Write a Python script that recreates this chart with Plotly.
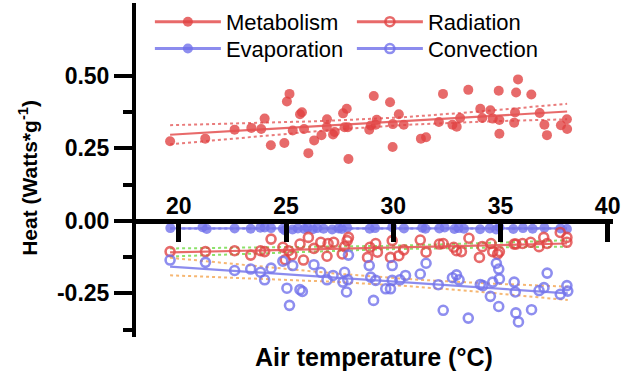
import numpy as np
import plotly.graph_objects as go

# ---------------- data ----------------
T_met = [19.59, 21.23, 22.60, 23.38, 23.84, 24.00, 24.29, 24.92, 25.04, 25.16,
         25.31, 25.65, 25.74, 25.84, 26.04, 26.31, 26.65, 26.90, 26.91, 27.19,
         27.27, 27.66, 27.73, 27.83, 27.88, 27.91, 28.88, 28.95, 29.09, 29.18,
         29.23, 29.85, 29.97, 29.98, 30.26, 30.49, 31.29, 31.53, 32.13, 32.32,
         32.76, 32.96, 33.12, 33.50, 34.06, 34.15, 34.53, 34.64, 34.92, 34.95,
         34.95, 35.64, 35.68, 35.73, 35.82, 36.44, 36.83, 37.05, 37.17, 37.82,
         38.10, 38.11]
V_met = [0.274, 0.283, 0.314, 0.320, 0.316, 0.352, 0.260, 0.268, 0.411, 0.437,
         0.311, 0.367, 0.374, 0.316, 0.233, 0.277, 0.295, 0.323, 0.350, 0.297,
         0.306, 0.370, 0.322, 0.386, 0.322, 0.213, 0.314, 0.328, 0.430, 0.331,
         0.348, 0.408, 0.254, 0.333, 0.367, 0.331, 0.283, 0.288, 0.340, 0.437,
         0.331, 0.324, 0.354, 0.451, 0.386, 0.354, 0.381, 0.352, 0.448, 0.347,
         0.300, 0.338, 0.373, 0.442, 0.487, 0.435, 0.371, 0.331, 0.295, 0.329,
         0.350, 0.316]

T_evap = [19.6, 21.1, 21.3, 22.6, 23.35, 23.8, 24.0, 24.3, 24.85, 24.95,
          25.3, 25.55, 25.85, 26.0, 26.25, 26.45, 26.75, 27.15, 27.45, 27.6,
          27.85, 28.9, 29.15, 29.95, 30.5, 31.35, 31.5, 32.15, 32.4, 32.85,
          33.05, 33.3, 34.05, 34.5, 34.8, 34.95, 35.6, 36.05, 36.5, 37.05,
          37.8, 38.1]
V_evap = [-0.025, -0.022, -0.028, -0.026, -0.027, -0.024, -0.023, -0.025, -0.027, -0.033,
          -0.030, -0.026, -0.028, -0.024, -0.029, -0.025, -0.027, -0.030, -0.026, -0.028,
          -0.024, -0.027, -0.025, -0.022, -0.026, -0.024, -0.027, -0.026, -0.023, -0.028,
          -0.025, -0.027, -0.029, -0.026, -0.030, -0.022, -0.028, -0.025, -0.027, -0.024,
          -0.026, -0.028]

T_rad = [19.59, 21.24, 22.60, 23.35, 23.81, 24.00, 24.30, 24.85, 24.96, 25.12,
         25.27, 25.65, 25.81, 26.04, 26.30, 26.62, 26.91, 26.96, 27.22, 27.62,
         27.73, 27.85, 27.91, 28.80, 28.91, 29.18, 29.26, 29.87, 29.95, 30.26,
         30.49, 31.26, 31.53, 32.15, 32.33, 32.82, 32.95, 33.18, 33.53, 34.02,
         34.15, 34.56, 34.64, 34.87, 34.95, 35.64, 35.72, 36.03, 36.41, 36.80,
         37.02, 37.18, 37.79, 38.10, 38.10]
V_rad = [-0.106, -0.106, -0.103, -0.118, -0.103, -0.106, -0.063, -0.091, -0.134, -0.103,
         -0.118, -0.080, -0.135, -0.057, -0.095, -0.074, -0.122, -0.078, -0.074, -0.114,
         -0.089, -0.068, -0.057, -0.126, -0.091, -0.078, -0.108, -0.126, -0.068, -0.120,
         -0.100, -0.066, -0.108, -0.080, -0.078, -0.091, -0.103, -0.106, -0.060, -0.126,
         -0.089, -0.078, -0.106, -0.114, -0.106, -0.080, -0.080, -0.078, -0.074, -0.089,
         -0.057, -0.078, -0.040, -0.057, -0.074]

T_conv = [19.59, 21.24, 22.60, 23.35, 23.81, 24.00, 24.30, 24.85, 25.04, 25.16,
          25.31, 25.65, 25.76, 26.30, 26.62, 26.91, 27.19, 27.65, 27.73, 27.82,
          27.88, 27.91, 28.88, 28.95, 29.08, 29.18, 29.65, 29.87, 29.95, 29.95,
          30.31, 30.57, 31.26, 31.53, 32.10, 32.33, 32.76, 32.95, 33.07, 33.50,
          34.06, 34.18, 34.53, 34.64, 34.81, 34.92, 34.92, 34.95, 35.64, 35.69,
          35.72, 35.84, 36.45, 36.80, 37.03, 37.18, 37.79, 38.10, 38.14]
V_conv = [-0.135, -0.143, -0.171, -0.166, -0.177, -0.203, -0.163, -0.139, -0.232, -0.291,
          -0.154, -0.237, -0.243, -0.151, -0.177, -0.203, -0.188, -0.211, -0.177, -0.245,
          -0.203, -0.118, -0.154, -0.194, -0.274, -0.205, -0.234, -0.234, -0.154, -0.205,
          -0.203, -0.188, -0.183, -0.146, -0.220, -0.308, -0.196, -0.186, -0.203, -0.335,
          -0.219, -0.223, -0.260, -0.211, -0.146, -0.295, -0.166, -0.200, -0.211, -0.245,
          -0.317, -0.348, -0.306, -0.240, -0.230, -0.180, -0.253, -0.223, -0.242]

X_TICKS = [20, 25, 30, 35, 40]
Y_TICKS = [-0.25, 0.0, 0.25, 0.50]
Y_TICK_TEXT = ["-0.25", "0.00", "0.25", "0.50"]
Y_MINOR = [-0.375, -0.125, 0.125, 0.375]

RED = "rgba(224,64,64,0.78)"
RED_LINE = "rgba(228,80,80,0.85)"
BLUE = "rgba(110,110,235,0.78)"
BLUE_LINE = "rgba(120,120,235,0.85)"


def linfit(T, V, t=1.997):
    x = np.asarray(T, float)
    y = np.asarray(V, float)
    b, a = np.polyfit(x, y, 1)
    xs = np.linspace(x.min(), x.max(), 60)
    yh = a + b * xs
    n = len(x)
    s = np.sqrt(np.sum((y - (a + b * x)) ** 2) / (n - 2))
    xm = x.mean()
    se = s * np.sqrt(1.0 / n + (xs - xm) ** 2 / np.sum((x - xm) ** 2))
    return xs, yh, yh - t * se, yh + t * se


fig = go.Figure()

series = [
    ("Metabolism", T_met, V_met, "circle", RED, RED_LINE, "rgba(228,90,90,0.8)", "legend"),
    ("Evaporation", T_evap, V_evap, "circle", BLUE, BLUE_LINE, "rgba(130,130,235,0.6)", "legend2"),
    ("Radiation", T_rad, V_rad, "circle-open", RED, RED_LINE, "rgba(120,220,80,0.85)", "legend"),
    ("Convection", T_conv, V_conv, "circle-open", BLUE, BLUE_LINE, "rgba(245,170,90,0.85)", "legend2"),
]


def make_marker(sym, col):
    if sym == "circle":
        return dict(symbol="circle", size=10, color=col, line=dict(width=0))
    return dict(symbol="circle-open", size=9, color=col, line=dict(width=2.6))


for name, T, V, sym, mcol, lcol, cicol, leg in series:
    xs, yh, lo, hi = linfit(T, V)
    for band in (lo, hi):
        fig.add_trace(go.Scatter(x=xs, y=band, mode="lines", showlegend=False,
                                 line=dict(color=cicol, width=2, dash="dot"),
                                 hoverinfo="skip"))
    fig.add_trace(go.Scatter(x=T, y=V, mode="markers", marker=make_marker(sym, mcol),
                             showlegend=False, name=name))
    fig.add_trace(go.Scatter(x=xs, y=yh, mode="lines", showlegend=False,
                             line=dict(color=lcol, width=2.2)))

# legend entries: row 1 Metabolism, Radiation; row 2 Evaporation, Convection
leg_order = [series[0], series[2], series[1], series[3]]
for name, T, V, sym, mcol, lcol, cicol, leg in leg_order:
    fig.add_trace(go.Scatter(x=[None], y=[None], mode="lines+markers", name=name,
                             marker=make_marker(sym, mcol), legend=leg,
                             line=dict(color=lcol, width=3)))

YMIN, YMAX = -0.40, 0.75
PLOT_W = 621 - 136 - 4

leg_common = dict(orientation="h", xanchor="left", yanchor="middle",
                  entrywidth=121, entrywidthmode="pixels", itemwidth=66,
                  traceorder="normal", bgcolor="rgba(0,0,0,0)",
                  font=dict(size=22, family="Arial, Liberation Sans, sans-serif"))

fig.update_layout(
    width=621, height=372,
    margin=dict(l=136, r=4, t=1, b=35),
    paper_bgcolor="white", plot_bgcolor="white",
    font=dict(family="Arial, Liberation Sans, sans-serif", color="black"),
    showlegend=True,
    legend=dict(x=14 / PLOT_W, y=(337 - 20) / 336, **leg_common),
    legend2=dict(x=14 / PLOT_W, y=(337 - 47) / 336, **leg_common),
    xaxis=dict(range=[18, 40.25], tickvals=X_TICKS, ticktext=[str(v) for v in X_TICKS],
               side="top", anchor="free", position=(0 - YMIN) / (YMAX - YMIN),
               showline=True, linecolor="black", linewidth=5,
               ticks="inside", ticklen=18, tickwidth=5, tickcolor="black",
               ticklabelstandoff=-4, ticklabeloverflow="allow",
               showgrid=False, zeroline=False,
               tickfont=dict(size=23, family="Arial, Liberation Sans, sans-serif", weight="bold")),
    yaxis=dict(range=[YMIN, YMAX], tickvals=Y_TICKS, ticktext=Y_TICK_TEXT,
               showline=True, linecolor="black", linewidth=4,
               ticks="outside", ticklen=18, tickwidth=4, tickcolor="black",
               minor=dict(tickvals=Y_MINOR, ticks="outside", ticklen=9, tickwidth=4,
                          tickcolor="black", showgrid=False),
               showgrid=False, zeroline=False,
               tickfont=dict(size=23, family="Arial, Liberation Sans, sans-serif", weight="bold")),
    annotations=[
        dict(text="<b>Air temperature (°C)</b>", xref="paper", yref="paper",
             x=(376 - 136) / PLOT_W, y=-20 / 336, xanchor="center", yanchor="middle",
             showarrow=False, font=dict(size=25)),
        dict(text="<b>Heat (Watts*g<sup>-1</sup>)</b>", xref="paper", yref="paper",
             x=(27 - 136) / PLOT_W, y=(337 - 177) / 336, xanchor="center", yanchor="middle",
             textangle=-90, showarrow=False, font=dict(size=21)),
    ],
)

fig.write_html("out.html")
